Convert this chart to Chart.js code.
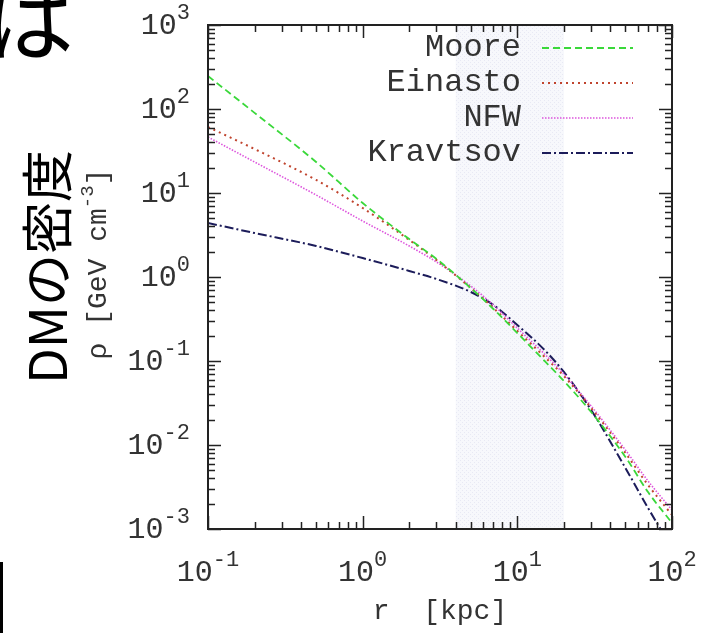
<!DOCTYPE html>
<html>
<head>
<meta charset="utf-8">
<script src="https://cdn.jsdelivr.net/npm/chart.js@4.4.1/dist/chart.umd.min.js"></script>
<style>
  html, body { margin: 0; padding: 0; background: #fff; }
  #wrap { position: relative; width: 702px; height: 633px; overflow: hidden; }
  #densityChart { position: absolute; left: 0; top: 0; }
  .slide-ha { position: absolute; left: -16px; top: -30px; font: 90px "Noto Sans CJK JP"; line-height: 1; color: #000; }
  .slide-title { position: absolute; left: 45px; top: 267px; transform: translate(-50%, -50%) rotate(-90deg);
                 font: 52px "Noto Sans CJK JP"; line-height: 1; white-space: nowrap; color: #000; }
  .slide-bar { position: absolute; left: 0; top: 562px; width: 3px; height: 80px; background: #000; }
</style>
</head>
<body>
<div id="wrap">
  <canvas id="densityChart" width="702" height="633"></canvas>
  <div class="slide-ha">は</div>
  <div class="slide-title">DMの密度</div>
  <div class="slide-bar"></div>
</div>
<script>
// radius samples [kpc]
const rKpc = [0.1, 0.2, 0.5, 1, 2, 3, 5, 7, 10, 15, 20, 30, 50, 70, 100];

// density [GeV cm^-3] for each halo profile
const moore    = [247, 90, 23.4, 7.6, 2.83, 1.64, 0.74, 0.416, 0.215, 0.100, 0.0578, 0.0247, 0.0072, 0.00275, 0.00118];
const einasto  = [61.0, 33.4, 14.3, 6.63, 2.76, 1.59, 0.74, 0.428, 0.228, 0.112, 0.0663, 0.0276, 0.00803, 0.00334, 0.00147];
const nfw      = [46.4, 23.4, 9.47, 4.64, 2.34, 1.51, 0.781, 0.464, 0.247, 0.121, 0.070, 0.0291, 0.00871, 0.00373, 0.00168];
const kravtsov = [4.39, 3.34, 2.34, 1.68, 1.18, 0.946, 0.663, 0.464, 0.268, 0.135, 0.074, 0.0261, 0.00532, 0.00178, 0.000594];

const profileNames = ['Moore', 'Einasto', 'NFW', 'Kravtsov'];

// decade exponents for tick labels
const xTickExps = [-1, 0, 1, 2];
const yTickExps = [-3, -2, -1, 0, 1, 2, 3];

// shaded radial band [kpc]
const bandKpc = [4, 20];

const MONO = '"Liberation Mono", "DejaVu Sans Mono", monospace';
const INK = '#333';

function toPoints(ys) {
  return rKpc.map((r, i) => ({ x: r, y: ys[i] }));
}

// faint cross-hatch used for the band
function hatchPattern(ctx) {
  const pc = document.createElement('canvas');
  pc.width = 4; pc.height = 4;
  const p = pc.getContext('2d');
  p.fillStyle = 'rgba(240,241,249,0.5)';
  p.fillRect(0, 0, 4, 4);
  p.fillStyle = 'rgba(212,216,236,0.45)';
  p.fillRect(0, 0, 1, 1);
  p.fillRect(2, 2, 1, 1);
  return ctx.createPattern(pc, 'repeat');
}

const bandPlugin = {
  id: 'band',
  beforeDatasetsDraw(chart) {
    const { ctx, chartArea, scales } = chart;
    const x0 = scales.x.getPixelForValue(bandKpc[0]);
    const x1 = scales.x.getPixelForValue(bandKpc[1]);
    ctx.save();
    ctx.fillStyle = hatchPattern(ctx);
    ctx.fillRect(x0, chartArea.top, x1 - x0, chartArea.bottom - chartArea.top);
    ctx.restore();
  }
};

// "10" with a raised exponent
function drawPower(ctx, exp, x, y, align) {
  const base = '10', sup = String(exp);
  ctx.font = '30px ' + MONO;
  const wb = ctx.measureText(base).width;
  ctx.font = '22px ' + MONO;
  const ws = ctx.measureText(sup).width;
  const total = wb + ws;
  let start = align === 'right' ? x - total : x - total / 2;
  ctx.textAlign = 'left';
  ctx.textBaseline = 'alphabetic';
  ctx.font = '30px ' + MONO;
  ctx.fillText(base, start, y);
  ctx.font = '22px ' + MONO;
  ctx.fillText(sup, start + wb, y - 15);
}

const framePlugin = {
  id: 'frame',
  afterDraw(chart) {
    const { ctx, chartArea: a, scales } = chart;
    const xs = scales.x, ys = scales.y;
    ctx.save();
    ctx.strokeStyle = '#222';
    ctx.lineWidth = 1.5;

    // inward ticks on all four sides
    ctx.beginPath();
    for (let k = -1; k <= 2; k++) {
      for (let m = 1; m <= 9; m++) {
        const v = m * Math.pow(10, k);
        if (v < 0.1 || v > 100) continue;
        const px = Math.round(xs.getPixelForValue(v)) + 0.5;
        const len = m === 1 ? 13 : 7;
        ctx.moveTo(px, a.bottom); ctx.lineTo(px, a.bottom - len);
        ctx.moveTo(px, a.top); ctx.lineTo(px, a.top + len);
      }
    }
    for (let k = -3; k <= 3; k++) {
      for (let m = 1; m <= 9; m++) {
        const v = m * Math.pow(10, k);
        if (v > 1000) continue;
        const py = Math.round(ys.getPixelForValue(v)) + 0.5;
        const len = m === 1 ? 13 : 7;
        ctx.moveTo(a.left, py); ctx.lineTo(a.left + len, py);
        ctx.moveTo(a.right, py); ctx.lineTo(a.right - len, py);
      }
    }
    ctx.stroke();

    ctx.lineWidth = 2;
    ctx.strokeRect(a.left, a.top, a.right - a.left, a.bottom - a.top);

    // tick labels
    ctx.fillStyle = INK;
    xTickExps.forEach(e => drawPower(ctx, e, xs.getPixelForValue(Math.pow(10, e)), a.bottom + 52, 'center'));
    yTickExps.forEach(e => drawPower(ctx, e, 190, ys.getPixelForValue(Math.pow(10, e)) + 9, 'right'));

    // x title
    ctx.font = '28px ' + MONO;
    ctx.textAlign = 'center';
    ctx.fillText('r  [kpc]', 440, 619);

    // y title, rotated
    ctx.save();
    ctx.translate(106, 264);
    ctx.rotate(-Math.PI / 2);
    const p1 = 'ρ [GeV cm', p2 = '-3', p3 = ']';
    ctx.font = '28px ' + MONO;
    const w1 = ctx.measureText(p1).width, w3 = ctx.measureText(p3).width;
    ctx.font = '19px ' + MONO;
    const w2 = ctx.measureText(p2).width;
    let sx = -(w1 + w2 + w3) / 2;
    ctx.textAlign = 'left';
    ctx.font = '28px ' + MONO;
    ctx.fillText(p1, sx, 0);
    ctx.font = '19px ' + MONO;
    ctx.fillText(p2, sx + w1, -13);
    ctx.font = '28px ' + MONO;
    ctx.fillText(p3, sx + w1 + w2, 0);
    ctx.restore();

    // key, gnuplot style: label then line sample
    chart.data.datasets.forEach((ds, i) => {
      const y = 48 + i * 35;
      ctx.fillStyle = INK;
      ctx.font = '32px ' + MONO;
      ctx.textAlign = 'right';
      ctx.textBaseline = 'middle';
      ctx.fillText(ds.label, 521, y);
      ctx.strokeStyle = ds.borderColor;
      ctx.lineWidth = ds.borderWidth;
      ctx.setLineDash(ds.borderDash || []);
      ctx.beginPath();
      ctx.moveTo(542, y); ctx.lineTo(633, y);
      ctx.stroke();
      ctx.setLineDash([]);
    });
    ctx.restore();
  }
};

const ctx = document.getElementById('densityChart').getContext('2d');
const densityChart = new Chart(ctx, {
  type: 'line',
  data: {
    datasets: [
      { label: profileNames[0], data: toPoints(moore),    borderColor: '#3ad83a', borderWidth: 1.8, borderDash: [7, 4] },
      { label: profileNames[1], data: toPoints(einasto),  borderColor: '#c0442e', borderWidth: 2,   borderDash: [2, 4] },
      { label: profileNames[2], data: toPoints(nfw),      borderColor: '#dd55dd', borderWidth: 1.6, borderDash: [1.5, 1.5] },
      { label: profileNames[3], data: toPoints(kravtsov), borderColor: '#1c1c5a', borderWidth: 2,   borderDash: [9, 3, 2, 3] }
    ]
  },
  options: {
    responsive: false,
    animation: false,
    layout: { padding: { left: 208, top: 25, right: 30, bottom: 104 } },
    elements: {
      point: { radius: 0 },
      line: { cubicInterpolationMode: 'monotone', fill: false }
    },
    scales: {
      x: { type: 'logarithmic', min: 0.1, max: 100, display: false },
      y: { type: 'logarithmic', min: 0.001, max: 1000, display: false }
    },
    plugins: {
      legend: { display: false },
      tooltip: { enabled: false }
    }
  },
  plugins: [bandPlugin, framePlugin]
});
</script>
</body>
</html>
